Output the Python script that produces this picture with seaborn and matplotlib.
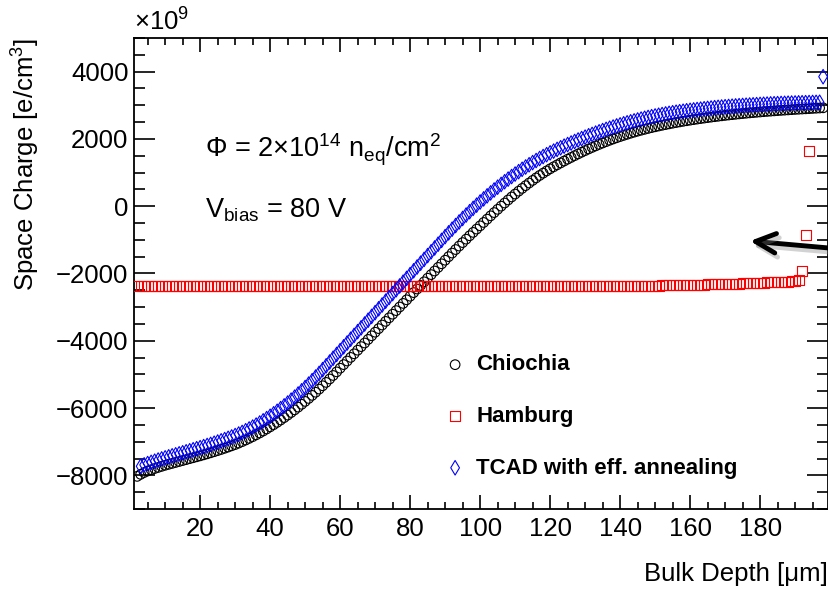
import numpy as np
import matplotlib
matplotlib.use("Agg")
import matplotlib.pyplot as plt
import matplotlib.patheffects as pe
from matplotlib.ticker import MultipleLocator
import seaborn as sns

# ---------------- data (space charge in units of 1e9 e/cm^3) ----------------
chiochia_start = 2
chiochia = [
    -8030, -7970, -7915, -7870, -7832, -7797, -7764, -7732, -7700,
    -7672, -7644, -7616, -7588, -7560, -7532, -7504, -7476, -7448, -7420,
    -7390, -7360, -7329, -7297, -7264, -7230, -7195, -7159, -7122, -7084,
    -7042, -6997, -6950, -6901, -6850, -6796, -6740, -6682, -6621, -6558,
    -6493, -6425, -6355, -6283, -6209, -6132, -6053, -5972, -5888, -5802,
    -5714, -5623, -5530, -5435, -5337, -5237, -5135, -5031, -4924, -4815,
    -4708, -4601, -4494, -4387, -4280, -4173, -4066, -3959, -3852, -3745,
    -3638, -3531, -3424, -3317, -3210, -3103, -2996, -2889, -2782, -2675,
    -2568, -2461, -2354, -2247, -2140, -2033, -1926, -1819, -1712, -1605,
    -1499, -1393, -1288, -1184, -1081, -979, -878, -778, -680, -583,
    -483, -384, -286, -189, -93, 2, 95, 186, 275, 362,
    447, 530, 611, 690, 767, 842, 914, 983, 1049, 1112,
    1172, 1230, 1287, 1343, 1398, 1450, 1503, 1555, 1605, 1654,
    1702, 1748, 1793, 1837, 1879, 1920, 1960, 1998, 2035, 2071,
    2105, 2138, 2170, 2201, 2231, 2259, 2286, 2312, 2337, 2361,
    2384, 2406, 2427, 2448, 2468, 2487, 2506, 2524, 2541, 2558,
    2574, 2590, 2605, 2620, 2634, 2648, 2661, 2674, 2687, 2699,
    2711, 2722, 2733, 2744, 2754, 2764, 2774, 2783, 2792, 2801,
    2810, 2818, 2826, 2834, 2842, 2849, 2856, 2863, 2870, 2877,
    2883, 2889, 2895, 2901, 2907, 2913, 2919, 2925,
]

hamburg_start = 2
hamburg = [
    -2360, -2360, -2360, -2360, -2360, -2360, -2360, -2360, -2360, -2360,
    -2360, -2360, -2360, -2360, -2360, -2360, -2360, -2360, -2360, -2360,
    -2360, -2360, -2360, -2360, -2360, -2360, -2360, -2360, -2360, -2360,
    -2360, -2360, -2360, -2360, -2360, -2360, -2360, -2360, -2360, -2360,
    -2360, -2360, -2360, -2360, -2360, -2360, -2360, -2360, -2360, -2360,
    -2360, -2360, -2360, -2360, -2360, -2360, -2360, -2360, -2360, -2360,
    -2360, -2360, -2360, -2360, -2360, -2360, -2360, -2360, -2360, -2360,
    -2360, -2360, -2360, -2360, -2360, -2360, -2360, -2360, -2360, -2360,
    -2360, -2360, -2360, -2360, -2360, -2360, -2360, -2360, -2360, -2360,
    -2360, -2360, -2360, -2360, -2360, -2360, -2360, -2360, -2360, -2360,
    -2360, -2360, -2360, -2360, -2360, -2360, -2360, -2360, -2360, -2360,
    -2360, -2360, -2360, -2360, -2360, -2360, -2360, -2360, -2360, -2360,
    -2360, -2360, -2360, -2360, -2360, -2360, -2360, -2360, -2360, -2360,
    -2360, -2360, -2360, -2360, -2360, -2360, -2360, -2360, -2360, -2360,
    -2360, -2360, -2360, -2360, -2360, -2360, -2360, -2360, -2360,
    -2358, -2356, -2354, -2352, -2350, -2348, -2346, -2344, -2342, -2340,
    -2338, -2335, -2332, -2329, -2326, -2323, -2320, -2317, -2314, -2311,
    -2308, -2305, -2302, -2298, -2294, -2290, -2286, -2282, -2278, -2274,
    -2270, -2266, -2262, -2258, -2254, -2250, -2245, -2240, -2232,
    -2220, -2180, -1920, -870, 1630,
]

tcad_start = 3
tcad = [
    -7730, -7688, -7650, -7614, -7579, -7545, -7512, -7480,
    -7450, -7420, -7390, -7360, -7330, -7300, -7270, -7239, -7208, -7177,
    -7145, -7112, -7079, -7045, -7010, -6974, -6937, -6899, -6859, -6817,
    -6772, -6725, -6674, -6621, -6565, -6506, -6445, -6380, -6313, -6243,
    -6170, -6095, -6016, -5935, -5851, -5764, -5675, -5582, -5487, -5389,
    -5288, -5185, -5078, -4969, -4857, -4744, -4631, -4518, -4405, -4292,
    -4179, -4066, -3953, -3840, -3727, -3614, -3501, -3388, -3275, -3162,
    -3049, -2936, -2823, -2710, -2597, -2484, -2371, -2258, -2145, -2032,
    -1919, -1806, -1693, -1580, -1467, -1354, -1241, -1128, -1015, -903,
    -792, -682, -574, -468, -364, -262, -162, -64, 32, 126,
    218, 308, 396, 482, 566, 648, 728, 806, 882, 956,
    1028, 1098, 1166, 1232, 1296, 1358, 1418, 1476, 1532, 1586,
    1638, 1689, 1738, 1786, 1833, 1879, 1924, 1968, 2011, 2053,
    2094, 2134, 2173, 2211, 2248, 2284, 2319, 2353, 2386, 2418,
    2449, 2479, 2508, 2536, 2563, 2589, 2614, 2638, 2661, 2683,
    2704, 2724, 2743, 2761, 2778, 2794, 2809, 2823, 2837, 2850,
    2862, 2874, 2885, 2897, 2908, 2919, 2929, 2939, 2948, 2957,
    2965, 2973, 2981, 2988, 2995, 3002, 3008, 3014, 3020, 3026,
    3031, 3036, 3041, 3046, 3050, 3054, 3058, 3062, 3066, 3069,
    3072, 3075, 3078, 3081, 3084, 3087, 3090, 3850,
]

series_labels = ["Chiochia", "Hamburg", "TCAD with eff. annealing"]
x_ticks = [20, 40, 60, 80, 100, 120, 140, 160, 180]
y_ticks = [-8000, -6000, -4000, -2000, 0, 2000, 4000]

# ---------------- style ----------------
plt.rcParams['font.family'] = ['Liberation Sans', 'DejaVu Sans']
plt.rcParams['mathtext.fontset'] = 'custom'
plt.rcParams['mathtext.rm'] = 'Liberation Sans'
plt.rcParams['mathtext.it'] = 'Liberation Sans:italic'
plt.rcParams['mathtext.bf'] = 'Liberation Sans:bold'

W, H = 829, 590
fig = plt.figure(figsize=(W / 100, H / 100), dpi=100)
L, R, T, B = 134, 828, 38, 509
ax = fig.add_axes([L / W, 1 - B / H, (R - L) / W, (B - T) / H])

def xs(start, vals):
    return np.arange(start, start + len(vals))

sns.scatterplot(x=xs(chiochia_start, chiochia), y=chiochia, ax=ax, marker='o', s=48,
                facecolor='none', edgecolor='black', linewidth=0.8, label=series_labels[0], zorder=3)
sns.scatterplot(x=xs(hamburg_start, hamburg), y=hamburg, ax=ax, marker='s', s=52,
                facecolor='none', edgecolor='#ff0000', linewidth=0.8, label=series_labels[1], zorder=4)
sns.scatterplot(x=xs(tcad_start, tcad), y=tcad, ax=ax, marker='d', s=55,
                facecolor='none', edgecolor='#0000ff', linewidth=0.8, label=series_labels[2], zorder=5)

FS = 18.5
ax.set_xlim(1.1, 199.4)
ax.set_ylim(-9000, 5000)
ax.set_xticks(x_ticks)
ax.set_yticks(y_ticks)
ax.xaxis.set_minor_locator(MultipleLocator(5))
ax.yaxis.set_minor_locator(MultipleLocator(500))
ax.tick_params(axis='both', which='both', direction='in', top=True, right=True,
               width=1.2, labelsize=FS, colors='black')
ax.tick_params(axis='x', which='major', length=10, pad=6)
ax.tick_params(axis='x', which='minor', length=5)
ax.tick_params(axis='y', which='major', length=15, pad=4)
ax.tick_params(axis='y', which='minor', length=8)
for s in ax.spines.values():
    s.set_linewidth(1.3)
    s.set_color('black')
ax.set_facecolor('white')
ax.grid(False)

ax.set_xlabel('Bulk Depth [μm]', fontsize=FS, loc='right')
ax.xaxis.set_label_coords(1.0, -(562 - B) / (B - T))
ax.xaxis.label.set_va('top')
ax.set_ylabel('Space Charge [e/cm$^{3}$]', fontsize=FS, loc='top')
ax.yaxis.set_label_coords(-(L - 42) / (R - L), 1.0)

fig.text(L / W, 1 - 31 / H, '×10$^{9}$', fontsize=FS, ha='left', va='baseline')

fig.text(205 / W, 1 - 157 / H, 'Φ = 2×10$^{14}$ n$_{\\mathregular{eq}}$/cm$^{2}$',
         fontsize=19.5, ha='left', va='baseline')
fig.text(205 / W, 1 - 217 / H, 'V$_{\\mathregular{bias}}$ = 80 V',
         fontsize=19.5, ha='left', va='baseline')

leg = ax.legend(loc='upper left', bbox_to_anchor=(444 / W, 1 - 354.5 / H),
                bbox_transform=fig.transFigure, frameon=False,
                prop={'weight': 'bold', 'size': 16}, handlelength=1.0,
                handletextpad=0.45, labelspacing=1.375, borderpad=0, borderaxespad=0)

ax.annotate('', xy=(750 / W, 1 - 241 / H), xytext=(829 / W, 1 - 248 / H),
            xycoords='figure fraction', textcoords='figure fraction',
            arrowprops=dict(arrowstyle='->,head_length=1.45,head_width=0.7',
                            lw=3.5, color='black', shrinkA=0, shrinkB=0,
                            mutation_scale=10,
                            path_effects=[pe.SimpleLineShadow(offset=(2, -3), shadow_color='gray', alpha=0.35),
                                          pe.Normal()]))

fig.savefig('out.png', dpi=100, facecolor='white')
